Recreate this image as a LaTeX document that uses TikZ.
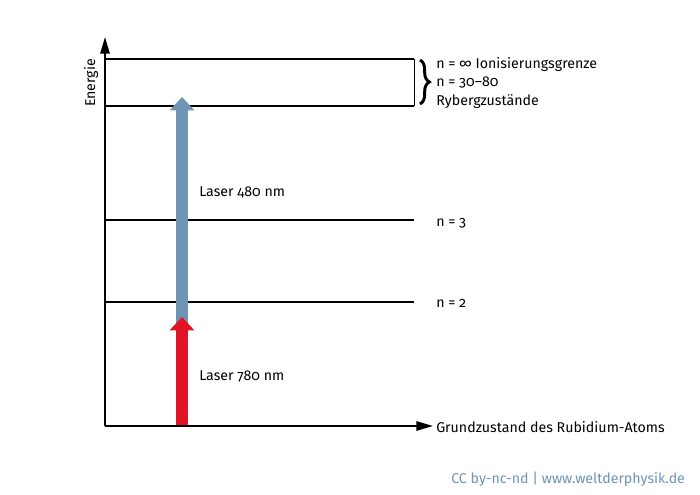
\documentclass[tikz,border=0pt]{standalone}
\usepackage{fontspec}
\setmainfont[Numbers=OldStyle]{Fira Sans}
\usetikzlibrary{arrows.meta,decorations.pathreplacing}
\definecolor{laserblue}{HTML}{7094B3}
\definecolor{laserred}{HTML}{E01424}
\definecolor{linkblue}{HTML}{6E93B5}
\tikzset{
	level/.style={line width=1.4pt,black},
	boxline/.style={line width=1pt,black},
	label/.style={anchor=west,inner sep=0pt,font=\fontsize{10.65}{12.5}\selectfont},
	laser/.style={line width=8.8pt,-{Triangle[length=10pt,width=18pt]}},
	axis/.style={line width=1.4pt,-{Triangle[length=12.5pt,width=7pt]}},
}
\begin{document}
\begin{tikzpicture}[>=stealth,x=0.75pt,y=0.75pt]
	\useasboundingbox (0,0) rectangle (700,495);
	\coordinate (O) at (105,69);
	\coordinate (ytip) at (105,458);
	\coordinate (xtip) at (433,69);
	\coordinate (topL) at (105,436);
	\coordinate (topR) at (414,436);
	\coordinate (rydL) at (105,389);
	\coordinate (rydR) at (414,389);
	\coordinate (n3L) at (105,275);
	\coordinate (n3R) at (414,275);
	\coordinate (n2L) at (105,193);
	\coordinate (n2R) at (414,193);
	\coordinate (blueS) at (182,170);
	\coordinate (blueT) at (182,398);
	\coordinate (redS) at (182,69);
	\coordinate (redT) at (182,178);
	\draw[boxline] (topL) -- (topR);
	\draw[boxline] (rydL) -- (rydR);
	\draw[line width=0.6pt] (topR) -- (rydR);
	\draw[level] (n3L) -- (n3R);
	\draw[level] (n2L) -- (n2R);
	\draw[laser,laserblue] (blueS) -- (blueT);
	\draw[laser,laserred] (redS) -- (redT);
	\draw[axis] (O) -- (ytip);
	\draw[axis] (O) -- (xtip);
	\draw[line width=2.2pt,decorate,decoration={brace,amplitude=7pt}] (420,435) -- (420,391);
	\node[label,rotate=90,anchor=center] (energie) at (91,412) {Energie};
	\node[label] (inf) at (436,431) {n = ∞ Ionisierungsgrenze};
	\node[label] (range) at (436,412) {n = 30–80};
	\node[label] (ryd) at (436,393) {Rybergzustände};
	\node[label] (laserB) at (199,303) {Laser 480 nm};
	\node[label] (n3) at (436,272) {n = 3};
	\node[label] (n2) at (436,192) {n = 2};
	\node[label] (laserR) at (199,119) {Laser 780 nm};
	\node[label] (ground) at (436,68) {Grundzustand des Rubidium-Atoms};
	\node[label,text=linkblue] (credit) at (451,16) {CC by-nc-nd | www.weltderphysik.de};
\end{tikzpicture}
\end{document}
